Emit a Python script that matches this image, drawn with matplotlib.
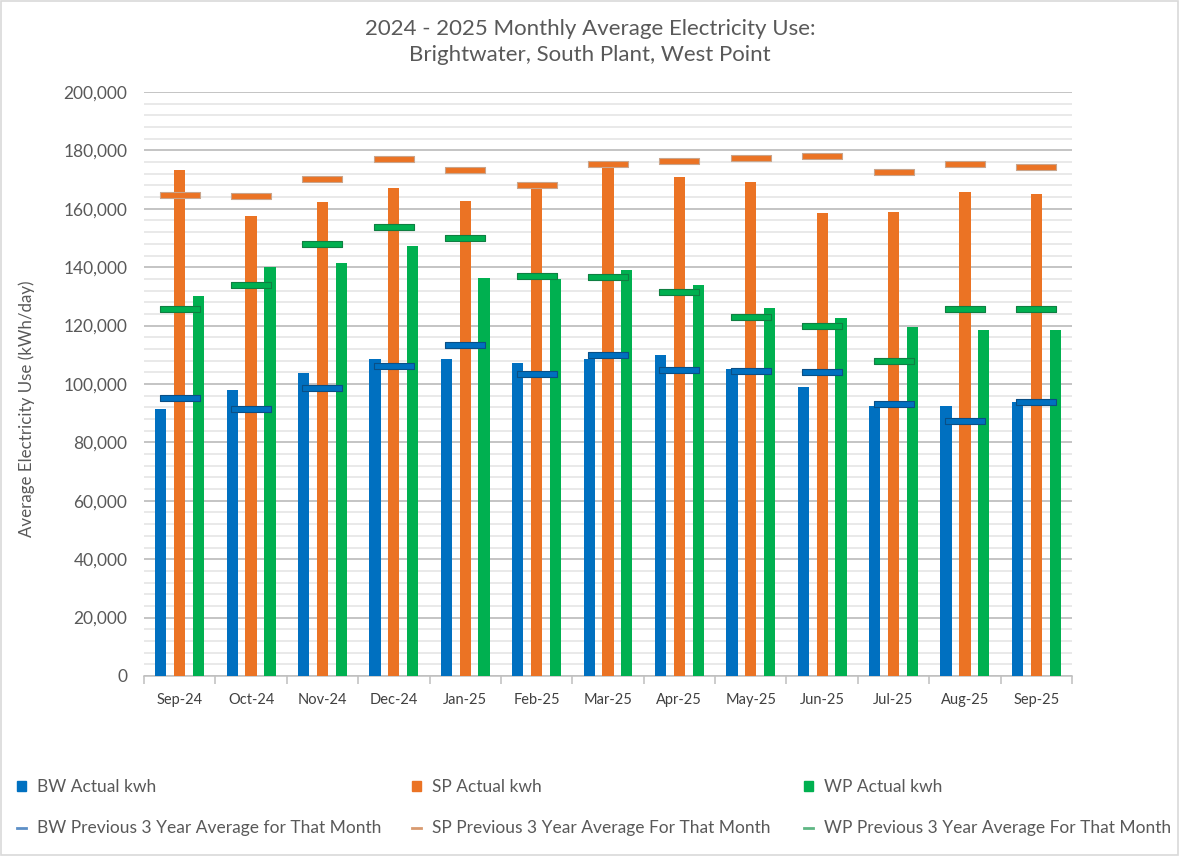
import matplotlib
matplotlib.use("Agg")
import matplotlib.pyplot as plt
import matplotlib.patches as mpatches
from matplotlib.lines import Line2D
from matplotlib.path import Path
from matplotlib.ticker import MultipleLocator, FuncFormatter
import numpy as np

plt.rcParams["font.family"] = ["Lato", "DejaVu Sans"]

# --- data (kWh/day) ---
months = ["Sep-24", "Oct-24", "Nov-24", "Dec-24", "Jan-25", "Feb-25", "Mar-25",
          "Apr-25", "May-25", "Jun-25", "Jul-25", "Aug-25", "Sep-25"]

bw_actual = [91500, 97900, 103600, 108600, 108600, 107100, 108600,
             110000, 105000, 99000, 92500, 92500, 93900]
sp_actual = [173200, 157600, 162500, 167200, 162800, 167300, 174500,
             170900, 169200, 158600, 159000, 165700, 165000]
wp_actual = [130300, 140200, 141500, 147400, 136300, 136000, 139100,
             133800, 125900, 122600, 119500, 118500, 118500]

bw_prev3 = [95200, 91300, 98700, 106100, 113300, 103400, 110100,
            104700, 104400, 104000, 93000, 87300, 93800]
sp_prev3 = [164800, 164400, 170200, 177200, 173200, 168300, 175400,
            176500, 177500, 178200, 172500, 175400, 174400]
wp_prev3 = [125700, 133900, 148100, 153700, 149900, 137100, 136600,
            131400, 122800, 120000, 107900, 125700, 125700]

BLUE, ORANGE, GREEN = "#0070C0", "#EB7324", "#00B050"
GREY_TXT = "#595959"

fig = plt.figure(figsize=(11.8, 8.56), dpi=100)
ax = fig.add_axes([144 / 1180, 1 - 676 / 856, (1072 - 144) / 1180, (676 - 92) / 856])

x = np.arange(len(months))
w = 0.158
off = 0.264
ax.bar(x - off, bw_actual, w, color=BLUE, zorder=3)
ax.bar(x, sp_actual, w, color=ORANGE, zorder=3)
ax.bar(x + off, wp_actual, w, color=GREEN, zorder=3)

# flat rectangle marker for the 3-year averages
h = 7 / 41
dash = Path([(-1, -h), (1, -h), (1, h), (-1, h), (-1, -h)],
            [Path.MOVETO, Path.LINETO, Path.LINETO, Path.LINETO, Path.CLOSEPOLY])
for vals, fc, ec in [(bw_prev3, BLUE, "#0a4f86"),
                     (sp_prev3, ORANGE, "#c9a58c"),
                     (wp_prev3, GREEN, "#0f7f42")]:
    ax.plot(x, vals, linestyle="none", marker=dash, markersize=29.5,
            markerfacecolor=fc, markeredgecolor=ec, markeredgewidth=0.8, zorder=4)

ax.set_xlim(-0.5, len(months) - 0.5)
ax.set_ylim(0, 200000)
ax.yaxis.set_major_locator(MultipleLocator(20000))
ax.yaxis.set_minor_locator(MultipleLocator(4000))
ax.yaxis.set_major_formatter(FuncFormatter(lambda v, p: f"{int(v):,}"))
ax.grid(axis="y", which="major", color="#b4b4b4", lw=1.1, zorder=0)
ax.grid(axis="y", which="minor", color="#e3e3e3", lw=1.1, zorder=0)
for s in ["top", "right", "left"]:
    ax.spines[s].set_visible(False)
ax.spines["bottom"].set_color("#bfbfbf")
ax.spines["bottom"].set_linewidth(1.1)

ax.set_xticks(x)
ax.set_xticklabels(months)
ax.set_xticks(np.arange(-0.5, len(months)), minor=True)
ax.tick_params(axis="x", which="major", length=0, pad=12, labelsize=10.5, labelcolor="#404040")
ax.tick_params(axis="x", which="minor", length=6, color="#bfbfbf", width=1.1)
ax.tick_params(axis="y", which="both", length=0, pad=12, labelsize=12.5, labelcolor=GREY_TXT)

ax.set_ylabel("Average Electricity Use (kWh/day)", fontsize=12.2, color=GREY_TXT)
ax.yaxis.set_label_coords((35 - 144) / 928, (676 - 409) / 584)

fig.text(590 / 1180, 1 - 42 / 856,
         "2024 - 2025 Monthly Average Electricity Use:\nBrightwater, South Plant, West Point",
         ha="center", va="center", fontsize=16, color=GREY_TXT, linespacing=1.4)

# legend: three columns placed like the original
leg_cols = [
    (17, BLUE, "#5d8fc6", "BW Actual kwh", "BW Previous 3 Year Average for That Month"),
    (412, ORANGE, "#d89a70", "SP Actual kwh", "SP Previous 3 Year Average For That Month"),
    (804, GREEN, "#5fb784", "WP Actual kwh", "WP Previous 3 Year Average For That Month"),
]
for lx, col, lcol, lab1, lab2 in leg_cols:
    fig.legend([mpatches.Patch(color=col), Line2D([], [], color=lcol, lw=2)], [lab1, lab2],
               loc="upper left", bbox_to_anchor=(lx / 1180, 1 - 779 / 856),
               frameon=False, fontsize=12.5, labelcolor=GREY_TXT, handlelength=0.5,
               handleheight=0.5, handletextpad=0.63, labelspacing=1.45,
               borderpad=0, borderaxespad=0)

fig.add_artist(mpatches.Rectangle((0.0005, 0.0008), 0.998, 0.998, transform=fig.transFigure,
                                  fill=False, edgecolor="#d9d9d9", lw=1.2))

fig.savefig("out.png", dpi=100)
